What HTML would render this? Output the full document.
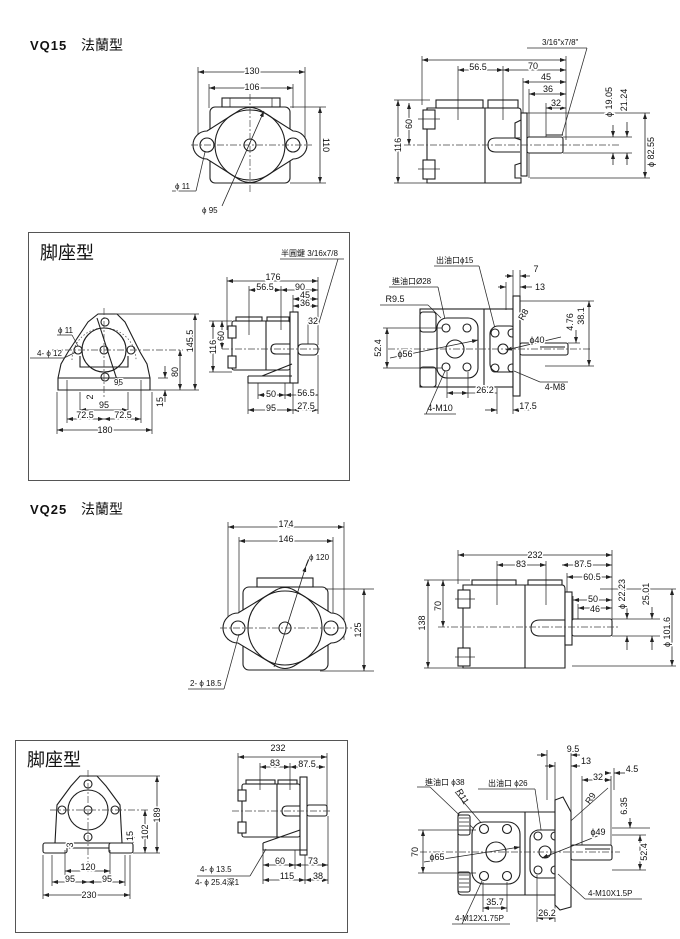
<!DOCTYPE html>
<html><head><meta charset="utf-8">
<style>
html,body{margin:0;padding:0;background:#fff;}
svg{display:block;}
.l{stroke:#1e1e1e;stroke-width:1.1;fill:none;}
.f{stroke:#1e1e1e;stroke-width:1.1;fill:#fff;}
.h{stroke:#2a2a2a;stroke-width:0.75;fill:none;}
.c{stroke:#444;stroke-width:0.7;stroke-dasharray:7 2 2 2;fill:none;}
.dt{stroke:#555;stroke-width:0.8;stroke-dasharray:1.5 2;fill:none;}
.d{stroke:#222;stroke-width:0.8;fill:none;marker-start:url(#a);marker-end:url(#a);}
.de{stroke:#222;stroke-width:0.8;fill:none;marker-end:url(#a);}
.t{font-family:"Liberation Sans","Noto Sans CJK TC",sans-serif;font-size:9px;fill:#111;stroke:#fff;stroke-width:3px;paint-order:stroke;stroke-linejoin:round;text-anchor:middle;}
.s{font-family:"Liberation Sans","Noto Sans CJK TC",sans-serif;font-size:8px;fill:#111;stroke:#fff;stroke-width:2px;paint-order:stroke;}
.ti{font-family:"Liberation Sans","Noto Sans CJK TC",sans-serif;fill:#111;}
</style></head><body>
<svg width="680" height="939" viewBox="0 0 680 939" xmlns="http://www.w3.org/2000/svg">
<defs>
<marker id="a" markerWidth="6" markerHeight="4" refX="6" refY="2" orient="auto-start-reverse" markerUnits="userSpaceOnUse"><path d="M0,0 L6,2 L0,4z" fill="#222"/></marker>
</defs>
<rect width="680" height="939" fill="#fff"/>

<!-- Titles -->
<text class="ti" x="30" y="50" font-size="13" font-weight="bold" letter-spacing="1">VQ15</text>
<text class="ti" x="81" y="50" font-size="14">法蘭型</text>
<text class="ti" x="30" y="514" font-size="13" font-weight="bold" letter-spacing="1">VQ25</text>
<text class="ti" x="81" y="514" font-size="14">法蘭型</text>

<!-- Boxes -->
<rect x="28.5" y="232.5" width="321" height="248" fill="none" stroke="#555" stroke-width="1"/>
<text class="ti" x="40" y="259" font-size="18">脚座型</text>
<rect x="15.5" y="740.5" width="332" height="192" fill="none" stroke="#555" stroke-width="1"/>
<text class="ti" x="27" y="766" font-size="18">脚座型</text>

<!-- ===== Drawing 1 : VQ15 flange front ===== -->
<g>
<line class="h" x1="198" y1="67" x2="198" y2="150"/>
<line class="h" x1="305" y1="67" x2="305" y2="150"/>
<line class="h" x1="209" y1="84" x2="209" y2="108"/>
<line class="h" x1="293" y1="84" x2="293" y2="108"/>
<line class="d" x1="198" y1="72" x2="305" y2="72"/>
<line class="d" x1="209" y1="88" x2="293" y2="88"/>
<text class="t" x="252" y="74">130</text>
<text class="t" x="252" y="90">106</text>
<rect class="l" x="222" y="98" width="58" height="9"/>
<line class="h" x1="230" y1="98" x2="230" y2="107"/><line class="h" x1="272" y1="98" x2="272" y2="107"/>
<rect class="l" x="210" y="107" width="80" height="76" rx="5"/>
<path class="f" d="M207,131 L240,110 Q250,105 260,110 L293,131 A14,14 0 0 1 293,159 L260,180 Q250,185 240,180 L207,159 A14,14 0 0 1 207,131 Z"/>
<circle class="l" cx="250" cy="145" r="35"/>
<circle class="l" cx="207" cy="145" r="7"/>
<circle class="l" cx="293" cy="145" r="7"/>
<circle class="l" cx="250" cy="145" r="6"/>
<line class="c" x1="191" y1="145" x2="312" y2="145"/>
<line class="c" x1="250" y1="94" x2="250" y2="192"/>
<line class="h" x1="290" y1="107" x2="326" y2="107"/>
<line class="h" x1="290" y1="183" x2="326" y2="183"/>
<line class="d" x1="320" y1="107" x2="320" y2="183"/>
<text class="t" transform="translate(323,145) rotate(90)">110</text>
<line class="h" x1="172" y1="191" x2="196" y2="191"/>
<line class="h" x1="196" y1="191" x2="205" y2="152"/>
<text class="s" x="175" y="189">ϕ 11</text>
<line class="de" x1="222" y1="206" x2="264" y2="111"/>
<text class="s" x="202" y="213">ϕ 95</text>
</g>

<!-- ===== Drawing 2 : VQ15 side ===== -->
<g>
<text class="s" x="542" y="45">3/16"x7/8"</text>
<line class="h" x1="527" y1="48" x2="587" y2="48"/>
<line class="h" x1="587" y1="48" x2="562" y2="135"/>
<line class="h" x1="422" y1="56" x2="422" y2="105"/>
<line class="h" x1="566" y1="56" x2="566" y2="140"/>
<line class="h" x1="458" y1="66" x2="458" y2="120"/>
<line class="h" x1="503" y1="66" x2="503" y2="120"/>
<line class="h" x1="523" y1="78" x2="523" y2="135"/>
<line class="h" x1="529" y1="89" x2="529" y2="178"/>
<line class="h" x1="546" y1="103" x2="546" y2="140"/>
<line class="d" x1="422" y1="60" x2="566" y2="60"/>
<line class="d" x1="458" y1="70" x2="503" y2="70"/>
<line class="d" x1="503" y1="70" x2="566" y2="70"/>
<text class="t" x="478" y="70">56.5</text>
<text class="t" x="533" y="69">70</text>
<line class="d" x1="523" y1="82" x2="566" y2="82"/>
<text class="t" x="546" y="80">45</text>
<line class="d" x1="529" y1="94" x2="566" y2="94"/>
<text class="t" x="548" y="92">36</text>
<line class="d" x1="546" y1="108" x2="566" y2="108"/>
<text class="t" x="556" y="106">32</text>
<rect class="l" x="436" y="100" width="47" height="8"/>
<rect class="l" x="488" y="100" width="30" height="8"/>
<path class="l" d="M427,108 L518,108 Q521,108 521,111 L521,120 L515,123 L515,138 L521,140 L521,163 L515,165 L515,178 L521,178 L521,183 L427,183 Z"/>
<rect class="f" x="423" y="110" width="12" height="19"/>
<rect class="f" x="423" y="160" width="12" height="19"/>
<line class="h" x1="418" y1="119" x2="440" y2="119"/><line class="h" x1="418" y1="169" x2="440" y2="169"/>
<line class="l" x1="485" y1="108" x2="485" y2="183"/>
<path class="l" d="M520,138 L496,138 Q488,138 488,145 Q488,152 496,152 L520,152"/>
<rect class="f" x="521" y="113" width="6" height="63"/>
<rect class="f" x="527" y="137" width="36" height="16" rx="2"/>
<line class="l" x1="546" y1="135" x2="563" y2="135"/>
<line class="c" x1="404" y1="145" x2="620" y2="145"/>
<line class="h" x1="527" y1="113" x2="650" y2="113"/>
<line class="h" x1="530" y1="178" x2="650" y2="178"/>
<line class="h" x1="563" y1="137" x2="632" y2="137"/>
<line class="h" x1="563" y1="153" x2="632" y2="153"/>
<line class="de" x1="613" y1="125" x2="613" y2="137"/>
<line class="de" x1="613" y1="165" x2="613" y2="153"/>
<line class="de" x1="627" y1="122" x2="627" y2="137"/>
<line class="de" x1="627" y1="165" x2="627" y2="153"/>
<line class="d" x1="645" y1="113" x2="645" y2="178"/>
<text class="t" transform="translate(612,102) rotate(-90)" font-size="10">ϕ 19.05</text>
<text class="t" transform="translate(627,100) rotate(-90)" font-size="10">21.24</text>
<text class="t" transform="translate(654,152) rotate(-90)" font-size="10">ϕ 82.55</text>
<line class="h" x1="394" y1="100" x2="430" y2="100"/>
<line class="h" x1="394" y1="183" x2="430" y2="183"/>
<line class="d" x1="398" y1="100" x2="398" y2="183"/>
<line class="d" x1="409" y1="103" x2="409" y2="145"/>
<text class="t" transform="translate(401,145) rotate(-90)">116</text>
<text class="t" transform="translate(412,124) rotate(-90)">60</text>
</g>

<!-- ===== Box1 left : pedestal front ===== -->
<g>
<path class="l" d="M98,314 L117,314 L125,322 L140,352 L147,364 L150,378 L150,390 L58,390 L58,378 L61,364 L68,352 L88,322 Z"/>
<line class="l" x1="58" y1="378" x2="150" y2="378"/>
<path class="dt" d="M72,360 A32,32 0 1 1 136,360"/>
<path class="l" d="M80,356 L80,367 L128,367 L128,356"/>
<circle class="l" cx="104" cy="350" r="22"/>
<circle class="l" cx="104" cy="350" r="4"/>
<circle class="l" cx="105" cy="322" r="4"/>
<circle class="l" cx="78" cy="350" r="4"/>
<circle class="l" cx="131" cy="350" r="4"/>
<circle class="l" cx="105" cy="377" r="4"/>
<line class="c" x1="52" y1="350" x2="183" y2="350"/>
<line class="c" x1="104" y1="308" x2="104" y2="398"/>
<line class="l" x1="97" y1="318" x2="119" y2="386"/>
<text class="s" x="114" y="385" font-size="7">95</text>
<line class="h" x1="115" y1="314" x2="199" y2="314"/>
<line class="h" x1="150" y1="390" x2="199" y2="390"/>
<line class="d" x1="195" y1="314" x2="195" y2="390"/>
<text class="t" transform="translate(193,341) rotate(-90)">145.5</text>
<line class="d" x1="180" y1="350" x2="180" y2="390"/>
<text class="t" transform="translate(178,372) rotate(-90)">80</text>
<line class="h" x1="158" y1="378" x2="168" y2="378"/>
<line class="de" x1="165" y1="366" x2="165" y2="378"/>
<line class="de" x1="165" y1="402" x2="165" y2="390"/>
<text class="t" transform="translate(163,402) rotate(-90)">15</text>
<text class="t" transform="translate(93,397) rotate(-90)">2</text>
<line class="h" x1="57" y1="392" x2="57" y2="434"/>
<line class="h" x1="152" y1="392" x2="152" y2="434"/>
<line class="h" x1="67" y1="380" x2="67" y2="423"/>
<line class="h" x1="141" y1="380" x2="141" y2="423"/>
<line class="h" x1="80" y1="392" x2="80" y2="413"/>
<line class="h" x1="128" y1="392" x2="128" y2="413"/>
<line class="d" x1="80" y1="410" x2="128" y2="410"/>
<text class="t" x="104" y="408">95</text>
<line class="d" x1="67" y1="419" x2="104" y2="419"/>
<line class="d" x1="104" y1="419" x2="141" y2="419"/>
<text class="t" x="85" y="418">72.5</text>
<text class="t" x="123" y="418">72.5</text>
<line class="d" x1="57" y1="430" x2="152" y2="430"/>
<text class="t" x="105" y="433">180</text>
<text class="s" x="58" y="333">ϕ 11</text>
<line class="h" x1="57" y1="335" x2="72" y2="335"/>
<line class="h" x1="72" y1="335" x2="78" y2="346"/>
<text class="s" x="37" y="356">4- ϕ 12</text>
<line class="h" x1="30" y1="358" x2="64" y2="358"/>
<line class="h" x1="64" y1="358" x2="76" y2="352"/>
</g>

<!-- ===== Box1 right : pedestal side ===== -->
<g>
<text class="s" x="281" y="256" font-size="7.5">半圓鍵 3/16x7/8</text>
<line class="h" x1="280" y1="259" x2="344" y2="259"/>
<line class="h" x1="338" y1="259" x2="318" y2="326"/>
<line class="h" x1="227" y1="277" x2="227" y2="330"/>
<line class="h" x1="318" y1="277" x2="318" y2="345"/>
<line class="h" x1="249" y1="286" x2="249" y2="335"/>
<line class="h" x1="281" y1="286" x2="281" y2="330"/>
<line class="h" x1="293" y1="295" x2="293" y2="312"/>
<line class="h" x1="308" y1="318" x2="308" y2="345"/>
<line class="d" x1="227" y1="281" x2="318" y2="281"/>
<text class="t" x="273" y="280">176</text>
<line class="d" x1="249" y1="290" x2="281" y2="290"/>
<line class="d" x1="281" y1="290" x2="318" y2="290"/>
<text class="t" x="265" y="290">56.5</text>
<text class="t" x="300" y="290">90</text>
<line class="d" x1="293" y1="299" x2="318" y2="299"/>
<text class="t" x="305" y="298">45</text>
<line class="d" x1="293" y1="306" x2="318" y2="306"/>
<text class="t" x="305" y="306">36</text>
<line class="d" x1="308" y1="322" x2="318" y2="322"/>
<text class="t" x="313" y="324">32</text>
<rect class="l" x="236" y="317" width="26" height="4"/>
<rect class="l" x="267" y="317" width="22" height="4"/>
<rect class="l" x="232" y="321" width="58" height="49" rx="2"/>
<rect class="f" x="228" y="326" width="8" height="12"/>
<rect class="f" x="228" y="356" width="8" height="12"/>
<line class="l" x1="266" y1="321" x2="266" y2="370"/>
<path class="l" d="M290,344 L276,344 Q271,344 271,349 Q271,354 276,354 L290,354"/>
<rect class="f" x="290" y="312" width="8" height="71"/>
<rect class="f" x="298" y="344" width="20" height="11" rx="4"/>
<path class="l" d="M248,376 L292,376 M248,376 L248,383 L298,383"/>
<line class="l" x1="262" y1="376" x2="292" y2="364"/>
<line class="c" x1="222" y1="349" x2="322" y2="349"/>
<line class="h" x1="209" y1="321" x2="232" y2="321"/>
<line class="h" x1="209" y1="372" x2="232" y2="372"/>
<line class="d" x1="213" y1="321" x2="213" y2="372"/>
<line class="d" x1="222" y1="321" x2="222" y2="349"/>
<text class="t" transform="translate(216,347) rotate(-90)">116</text>
<text class="t" transform="translate(224,336) rotate(-90)">60</text>
<line class="h" x1="248" y1="383" x2="248" y2="414"/>
<line class="h" x1="258" y1="383" x2="258" y2="399"/>
<line class="h" x1="285" y1="383" x2="285" y2="399"/>
<line class="h" x1="293" y1="383" x2="293" y2="414"/>
<line class="h" x1="318" y1="355" x2="318" y2="414"/>
<line class="d" x1="258" y1="395" x2="285" y2="395"/>
<line class="d" x1="285" y1="395" x2="318" y2="395"/>
<text class="t" x="271" y="397">50</text>
<text class="t" x="306" y="396">56.5</text>
<line class="d" x1="248" y1="410" x2="293" y2="410"/>
<line class="d" x1="293" y1="410" x2="318" y2="410"/>
<text class="t" x="271" y="411">95</text>
<text class="t" x="306" y="409">27.5</text>
</g>

<!-- ===== Drawing 4 : VQ15 end view ===== -->
<g>
<text class="s" x="436" y="263" font-size="8.5">出油口ϕ15</text>
<line class="h" x1="434" y1="266" x2="479" y2="266"/>
<line class="h" x1="479" y1="266" x2="498" y2="340"/>
<text class="s" x="392" y="284" font-size="8.5">進油口Ø28</text>
<line class="h" x1="389" y1="287" x2="438" y2="287"/>
<line class="h" x1="438" y1="287" x2="446" y2="324"/>
<text class="t" x="395" y="302" font-size="9.5">R9.5</text>
<line class="h" x1="380" y1="305" x2="428" y2="305"/>
<line class="h" x1="428" y1="305" x2="441" y2="318"/>
<rect class="l" x="420" y="309" width="93" height="78"/>
<rect class="f" x="420" y="312" width="16" height="20" rx="3"/>
<rect class="f" x="420" y="367" width="16" height="20" rx="3"/>
<line class="l" x1="484" y1="309" x2="484" y2="387"/>
<rect class="f" x="437" y="318" width="41" height="60" rx="10"/>
<circle class="l" cx="455" cy="349" r="9"/>
<circle class="l" cx="446" cy="328" r="4"/>
<circle class="l" cx="467" cy="328" r="4"/>
<circle class="l" cx="446" cy="367" r="4"/>
<circle class="l" cx="467" cy="367" r="4"/>
<rect class="f" x="490" y="326" width="28" height="46" rx="8"/>
<circle class="l" cx="503" cy="349" r="5"/>
<circle class="l" cx="495" cy="333" r="4"/>
<circle class="l" cx="512" cy="333" r="4"/>
<circle class="l" cx="495" cy="368" r="4"/>
<circle class="l" cx="512" cy="368" r="4"/>
<rect class="f" x="513" y="296" width="7" height="100"/>
<line class="h" x1="513" y1="270" x2="513" y2="296"/>
<line class="h" x1="520" y1="270" x2="520" y2="296"/>
<line class="h" x1="506" y1="282" x2="506" y2="310"/>
<rect class="f" x="520" y="343" width="48" height="12" rx="2"/>
<line class="l" x1="540" y1="347" x2="565" y2="347"/>
<line class="c" x1="388" y1="349" x2="590" y2="349"/>
<line class="de" x1="505" y1="276" x2="513" y2="276"/>
<line class="de" x1="530" y1="276" x2="520" y2="276"/>
<text class="t" x="536" y="272">7</text>
<line class="de" x1="498" y1="287" x2="506" y2="287"/>
<line class="de" x1="532" y1="287" x2="520" y2="287"/>
<text class="t" x="540" y="290">13</text>
<text class="t" transform="translate(526,316) rotate(-60)">R8</text>
<line class="h" x1="383" y1="328" x2="442" y2="328"/>
<line class="h" x1="383" y1="368" x2="442" y2="368"/>
<line class="d" x1="387" y1="328" x2="387" y2="368"/>
<text class="t" transform="translate(381,348) rotate(-90)" font-size="10">52.4</text>
<line class="de" x1="390" y1="358" x2="478" y2="340"/>
<text class="t" x="405" y="357" font-size="9.5">ϕ56</text>
<line class="de" x1="561" y1="337" x2="506" y2="350"/>
<text class="t" x="537" y="343" font-size="9.5">ϕ40</text>
<line class="h" x1="520" y1="301" x2="594" y2="301"/>
<line class="h" x1="545" y1="366" x2="594" y2="366"/>
<line class="h" x1="568" y1="343" x2="580" y2="343"/>
<line class="d" x1="589" y1="301" x2="589" y2="366"/>
<text class="t" transform="translate(584,316) rotate(-90)" font-size="9.5">38.1</text>
<line class="de" x1="576" y1="330" x2="576" y2="343"/>
<text class="t" transform="translate(573,322) rotate(-90)" font-size="9.5">4.76</text>
<line class="h" x1="447" y1="372" x2="447" y2="398"/>
<line class="h" x1="468" y1="372" x2="468" y2="398"/>
<line class="d" x1="447" y1="393" x2="468" y2="393"/>
<line class="h" x1="468" y1="393" x2="497" y2="393"/>
<text class="t" x="485" y="393">26.2</text>
<line class="h" x1="497" y1="388" x2="497" y2="414"/>
<line class="h" x1="513" y1="396" x2="513" y2="414"/>
<line class="de" x1="485" y1="410" x2="497" y2="410"/>
<line class="de" x1="530" y1="410" x2="513" y2="410"/>
<text class="t" x="528" y="409" font-size="9.5">17.5</text>
<text class="t" x="440" y="411" font-size="9.5">4-M10</text>
<line class="h" x1="424" y1="414" x2="456" y2="414"/>
<line class="h" x1="426" y1="414" x2="445" y2="371"/>
<text class="t" x="555" y="390" font-size="9.5">4-M8</text>
<line class="h" x1="540" y1="382" x2="568" y2="382"/>
<line class="h" x1="540" y1="382" x2="514" y2="371"/>
</g>

<!-- ===== Drawing 5 : VQ25 flange front ===== -->
<g>
<line class="h" x1="228" y1="522" x2="228" y2="640"/>
<line class="h" x1="344" y1="522" x2="344" y2="640"/>
<line class="h" x1="239" y1="537" x2="239" y2="620"/>
<line class="h" x1="333" y1="537" x2="333" y2="620"/>
<line class="d" x1="228" y1="527" x2="344" y2="527"/>
<text class="t" x="286" y="527">174</text>
<line class="d" x1="239" y1="541" x2="333" y2="541"/>
<text class="t" x="286" y="542">146</text>
<rect class="l" x="257" y="578" width="56" height="9"/>
<rect class="l" x="243" y="587" width="85" height="83" rx="6"/>
<path class="f" d="M238,613 L276,590 Q285,585 294,590 L331,613 A15,15 0 0 1 331,643 L294,666 Q285,671 276,666 L238,643 A15,15 0 0 1 238,613 Z"/>
<circle class="l" cx="285" cy="628" r="37"/>
<circle class="l" cx="238" cy="628" r="7"/>
<circle class="l" cx="331" cy="628" r="7"/>
<circle class="l" cx="285" cy="628" r="6"/>
<line class="c" x1="220" y1="628" x2="352" y2="628"/>
<line class="de" x1="274" y1="667" x2="306" y2="566"/>
<line class="l" x1="306" y1="566" x2="310" y2="556"/>
<text class="s" x="309" y="560">ϕ 120</text>
<line class="h" x1="325" y1="589" x2="374" y2="589"/>
<line class="h" x1="320" y1="671" x2="374" y2="671"/>
<line class="d" x1="364" y1="589" x2="364" y2="671"/>
<text class="t" transform="translate(361,630) rotate(-90)">125</text>
<text class="s" x="190" y="686">2- ϕ 18.5</text>
<line class="h" x1="188" y1="689" x2="224" y2="689"/>
<line class="h" x1="224" y1="689" x2="239" y2="634"/>
</g>

<!-- ===== Drawing 6 : VQ25 side ===== -->
<g>
<line class="h" x1="458" y1="550" x2="458" y2="584"/>
<line class="h" x1="612" y1="550" x2="612" y2="620"/>
<line class="h" x1="497" y1="561" x2="497" y2="605"/>
<line class="h" x1="546" y1="561" x2="546" y2="605"/>
<line class="h" x1="567" y1="573" x2="567" y2="593"/>
<line class="h" x1="573" y1="596" x2="573" y2="620"/>
<line class="h" x1="578" y1="604" x2="578" y2="620"/>
<line class="d" x1="458" y1="555" x2="612" y2="555"/>
<text class="t" x="535" y="558">232</text>
<line class="d" x1="497" y1="565" x2="546" y2="565"/>
<text class="t" x="521" y="567">83</text>
<line class="d" x1="562" y1="565" x2="612" y2="565"/>
<text class="t" x="583" y="567">87.5</text>
<line class="d" x1="567" y1="577" x2="612" y2="577"/>
<text class="t" x="592" y="580">60.5</text>
<line class="d" x1="573" y1="600" x2="612" y2="600"/>
<text class="t" x="593" y="602">50</text>
<line class="d" x1="578" y1="608" x2="612" y2="608"/>
<text class="t" x="595" y="612">46</text>
<rect class="l" x="472" y="580" width="44" height="5"/>
<rect class="l" x="528" y="580" width="34" height="5"/>
<path class="l" d="M463,585 L562,585 Q565,585 565,589 L565,668 L463,668 Z"/>
<rect class="f" x="458" y="590" width="12" height="18"/>
<rect class="f" x="458" y="648" width="12" height="18"/>
<line class="h" x1="455" y1="599" x2="475" y2="599"/><line class="h" x1="455" y1="657" x2="475" y2="657"/>
<line class="l" x1="525" y1="585" x2="525" y2="668"/>
<path class="l" d="M565,620 L540,620 Q531,620 531,628 Q531,636 540,636 L565,636"/>
<rect class="f" x="565" y="592" width="7" height="53"/>
<rect class="f" x="572" y="619" width="40" height="17" rx="2"/>
<line class="c" x1="438" y1="627" x2="620" y2="627"/>
<line class="h" x1="424" y1="580" x2="470" y2="580"/>
<line class="h" x1="424" y1="668" x2="470" y2="668"/>
<line class="d" x1="428" y1="580" x2="428" y2="668"/>
<text class="t" transform="translate(425,623) rotate(-90)">138</text>
<line class="d" x1="443" y1="580" x2="443" y2="627"/>
<text class="t" transform="translate(441,606) rotate(-90)">70</text>
<line class="h" x1="612" y1="619" x2="660" y2="619"/>
<line class="h" x1="612" y1="636" x2="660" y2="636"/>
<line class="h" x1="600" y1="589" x2="676" y2="589"/>
<line class="h" x1="572" y1="666" x2="676" y2="666"/>
<line class="de" x1="627" y1="607" x2="627" y2="619"/>
<line class="de" x1="627" y1="650" x2="627" y2="636"/>
<line class="de" x1="652" y1="607" x2="652" y2="619"/>
<line class="de" x1="652" y1="650" x2="652" y2="636"/>
<line class="d" x1="672" y1="589" x2="672" y2="666"/>
<text class="t" transform="translate(625,594) rotate(-90)" font-size="9.5">ϕ 22.23</text>
<text class="t" transform="translate(649,594) rotate(-90)" font-size="9.5">25.01</text>
<text class="t" transform="translate(670,632) rotate(-90)" font-size="9.5">ϕ 101.6</text>
</g>

<!-- ===== Box2 left : pedestal front ===== -->
<g>
<path class="l" d="M80,776 L97,776 L106,786 L120,805 L122,843 L55,843 L57,805 L71,786 Z"/>
<rect class="f" x="43" y="843" width="24" height="10" rx="2"/>
<rect class="f" x="109" y="843" width="24" height="10" rx="2"/>
<line class="l" x1="67" y1="848" x2="109" y2="848"/>
<circle class="l" cx="88" cy="810" r="20"/>
<circle class="l" cx="88" cy="810" r="4"/>
<circle class="l" cx="88" cy="784" r="4"/>
<circle class="l" cx="62" cy="810" r="4"/>
<circle class="l" cx="115" cy="810" r="4"/>
<circle class="l" cx="88" cy="837" r="4"/>
<line class="c" x1="50" y1="810" x2="150" y2="810"/>
<line class="c" x1="88" y1="770" x2="88" y2="872"/>
<line class="h" x1="97" y1="776" x2="160" y2="776"/>
<line class="h" x1="133" y1="853" x2="160" y2="853"/>
<line class="d" x1="157" y1="776" x2="157" y2="853"/>
<text class="t" transform="translate(160,815) rotate(-90)">189</text>
<line class="d" x1="145" y1="810" x2="145" y2="853"/>
<text class="t" transform="translate(148,832) rotate(-90)">102</text>
<line class="de" x1="133" y1="832" x2="133" y2="843"/>
<text class="t" transform="translate(133,836) rotate(-90)">15</text>
<text class="t" transform="translate(73,845) rotate(-90)" font-size="8">3</text>
<line class="h" x1="43" y1="855" x2="43" y2="899"/>
<line class="h" x1="130" y1="855" x2="130" y2="899"/>
<line class="h" x1="52" y1="855" x2="52" y2="886"/>
<line class="h" x1="125" y1="855" x2="125" y2="886"/>
<line class="h" x1="65" y1="850" x2="65" y2="875"/>
<line class="h" x1="110" y1="850" x2="110" y2="875"/>
<line class="d" x1="65" y1="871" x2="110" y2="871"/>
<text class="t" x="88" y="870">120</text>
<line class="d" x1="52" y1="882" x2="88" y2="882"/>
<line class="d" x1="88" y1="882" x2="125" y2="882"/>
<text class="t" x="70" y="882">95</text>
<text class="t" x="107" y="882">95</text>
<line class="d" x1="43" y1="895" x2="130" y2="895"/>
<text class="t" x="89" y="898">230</text>
</g>

<!-- ===== Box2 right : pedestal side ===== -->
<g>
<text class="t" x="278" y="751">232</text>
<line class="h" x1="238" y1="753" x2="238" y2="790"/>
<line class="h" x1="327" y1="753" x2="327" y2="808"/>
<line class="h" x1="260" y1="763" x2="260" y2="790"/>
<line class="h" x1="290" y1="763" x2="290" y2="790"/>
<line class="d" x1="238" y1="757" x2="327" y2="757"/>
<line class="d" x1="260" y1="767" x2="290" y2="767"/>
<line class="d" x1="290" y1="767" x2="325" y2="767"/>
<text class="t" x="275" y="766">83</text>
<text class="t" x="307" y="767">87.5</text>
<rect class="l" x="246" y="780" width="29" height="4"/>
<rect class="l" x="278" y="780" width="19" height="4"/>
<rect class="l" x="242" y="784" width="58" height="53" rx="2"/>
<rect class="f" x="238" y="790" width="8" height="11"/>
<rect class="f" x="238" y="822" width="8" height="11"/>
<line class="l" x1="277" y1="784" x2="277" y2="837"/>
<path class="l" d="M300,806 L287,806 Q282,806 282,811 Q282,816 287,816 L300,816"/>
<rect class="f" x="300" y="777" width="7" height="78"/>
<rect class="f" x="307" y="805" width="20" height="11" rx="2"/>
<path class="l" d="M263,843 L263,850 L307,850"/>
<line class="l" x1="263" y1="843" x2="300" y2="830"/>
<line class="c" x1="232" y1="811" x2="330" y2="811"/>
<line class="h" x1="263" y1="850" x2="263" y2="884"/>
<line class="h" x1="295" y1="850" x2="295" y2="869"/>
<line class="h" x1="305" y1="855" x2="305" y2="884"/>
<line class="h" x1="328" y1="816" x2="328" y2="884"/>
<line class="d" x1="263" y1="865" x2="295" y2="865"/>
<line class="d" x1="295" y1="865" x2="328" y2="865"/>
<text class="t" x="280" y="864">60</text>
<text class="t" x="313" y="864">73</text>
<line class="d" x1="263" y1="880" x2="305" y2="880"/>
<line class="d" x1="305" y1="880" x2="328" y2="880"/>
<text class="t" x="287" y="879">115</text>
<text class="t" x="318" y="879">38</text>
<text class="s" x="200" y="872">4- ϕ 13.5</text>
<line class="h" x1="197" y1="876" x2="250" y2="876"/>
<line class="h" x1="250" y1="876" x2="266" y2="849"/>
<text class="s" x="195" y="885">4- ϕ 25.4深1</text>
</g>

<!-- ===== Drawing 8 : VQ25 end view ===== -->
<g>
<line class="h" x1="555" y1="762" x2="555" y2="800"/>
<line class="h" x1="547" y1="750" x2="547" y2="800"/>
<line class="h" x1="571" y1="750" x2="571" y2="812"/>
<line class="de" x1="537" y1="755" x2="547" y2="755"/>
<line class="de" x1="580" y1="755" x2="571" y2="755"/>
<text class="t" x="573" y="752">9.5</text>
<line class="de" x1="545" y1="766" x2="555" y2="766"/>
<line class="de" x1="580" y1="766" x2="571" y2="766"/>
<text class="t" x="586" y="764">13</text>
<line class="h" x1="582" y1="776" x2="582" y2="848"/>
<line class="h" x1="611" y1="776" x2="611" y2="848"/>
<line class="h" x1="614" y1="768" x2="614" y2="790"/>
<line class="d" x1="582" y1="780" x2="611" y2="780"/>
<text class="t" x="598" y="780">32</text>
<line class="de" x1="605" y1="773" x2="611" y2="773"/>
<line class="de" x1="625" y1="773" x2="614" y2="773"/>
<text class="t" x="632" y="772">4.5</text>
<text class="s" x="425" y="785" font-size="8.5">進油口 ϕ38</text>
<line class="h" x1="417" y1="787" x2="430" y2="787"/>
<line class="h" x1="430" y1="787" x2="494" y2="848"/>
<text class="s" x="488" y="786" font-size="8.5">出油口 ϕ26</text>
<line class="h" x1="478" y1="789" x2="535" y2="789"/>
<line class="h" x1="535" y1="789" x2="543" y2="843"/>
<text class="t" transform="translate(460,798) rotate(60)" font-size="8.5">R11</text>
<line class="h" x1="455" y1="792" x2="483" y2="825"/>
<text class="t" transform="translate(593,800) rotate(-55)" font-size="8.5">R9</text>
<line class="h" x1="608" y1="788" x2="556" y2="834"/>
<path class="l" d="M462,812 L560,812 L565,818 L565,895 L462,895 Q458,895 458,891 L458,816 Q458,812 462,812 Z"/>
<rect class="f" x="458" y="815" width="12" height="20" rx="2"/>
<rect class="f" x="458" y="872" width="12" height="20" rx="2"/>
<path class="h" d="M459,818 h10 M459,822 h10 M459,826 h10 M459,830 h10 M459,875 h10 M459,879 h10 M459,883 h10 M459,887 h10"/>
<line class="l" x1="525" y1="812" x2="525" y2="895"/>
<rect class="f" x="472" y="822" width="48" height="62" rx="12"/>
<circle class="l" cx="496" cy="852" r="10"/>
<circle class="l" cx="484" cy="829" r="4.5"/>
<circle class="l" cx="507" cy="829" r="4.5"/>
<circle class="l" cx="484" cy="876" r="4.5"/>
<circle class="l" cx="507" cy="876" r="4.5"/>
<rect class="f" x="530" y="830" width="32" height="48" rx="9"/>
<circle class="l" cx="545" cy="852" r="6"/>
<circle class="l" cx="538" cy="836" r="4"/>
<circle class="l" cx="555" cy="836" r="4"/>
<circle class="l" cx="538" cy="870" r="4"/>
<circle class="l" cx="555" cy="870" r="4"/>
<path class="f" d="M555,800 L563,797 L571,812 L571,907 L560,910 L555,905 Z"/>
<rect class="f" x="571" y="845" width="41" height="15" rx="2"/>
<line class="l" x1="585" y1="849" x2="610" y2="849"/>
<line class="c" x1="420" y1="852" x2="620" y2="852"/>
<line class="h" x1="418" y1="830" x2="476" y2="830"/>
<line class="h" x1="418" y1="873" x2="476" y2="873"/>
<line class="d" x1="423" y1="830" x2="423" y2="873"/>
<text class="t" transform="translate(418,852) rotate(-90)">70</text>
<line class="de" x1="424" y1="862" x2="520" y2="847"/>
<text class="t" x="437" y="860" font-size="9">ϕ65</text>
<line class="de" x1="605" y1="833" x2="542" y2="858"/>
<text class="t" x="598" y="835" font-size="9">ϕ49</text>
<line class="h" x1="612" y1="835" x2="646" y2="835"/>
<line class="h" x1="612" y1="870" x2="646" y2="870"/>
<line class="h" x1="612" y1="828" x2="650" y2="828"/>
<line class="d" x1="640" y1="835" x2="640" y2="870"/>
<text class="t" transform="translate(647,852) rotate(-90)">52.4</text>
<line class="de" x1="630" y1="818" x2="630" y2="828"/>
<text class="t" transform="translate(627,806) rotate(-90)" font-size="8.5">6.35</text>
<line class="h" x1="483" y1="882" x2="483" y2="912"/>
<line class="h" x1="507" y1="882" x2="507" y2="912"/>
<line class="d" x1="483" y1="908" x2="507" y2="908"/>
<text class="t" x="495" y="905">35.7</text>
<line class="h" x1="537" y1="875" x2="537" y2="922"/>
<line class="h" x1="555" y1="875" x2="555" y2="922"/>
<line class="d" x1="537" y1="918" x2="555" y2="918"/>
<text class="t" x="547" y="916">26.2</text>
<text class="s" x="455" y="921" font-size="8">4-M12X1.75P</text>
<line class="h" x1="452" y1="924" x2="510" y2="924"/>
<line class="h" x1="462" y1="924" x2="482" y2="881"/>
<text class="s" x="588" y="896" font-size="8">4-M10X1.5P</text>
<line class="h" x1="585" y1="899" x2="642" y2="899"/>
<line class="h" x1="585" y1="899" x2="558" y2="874"/>
</g>
</svg>
</body></html>
